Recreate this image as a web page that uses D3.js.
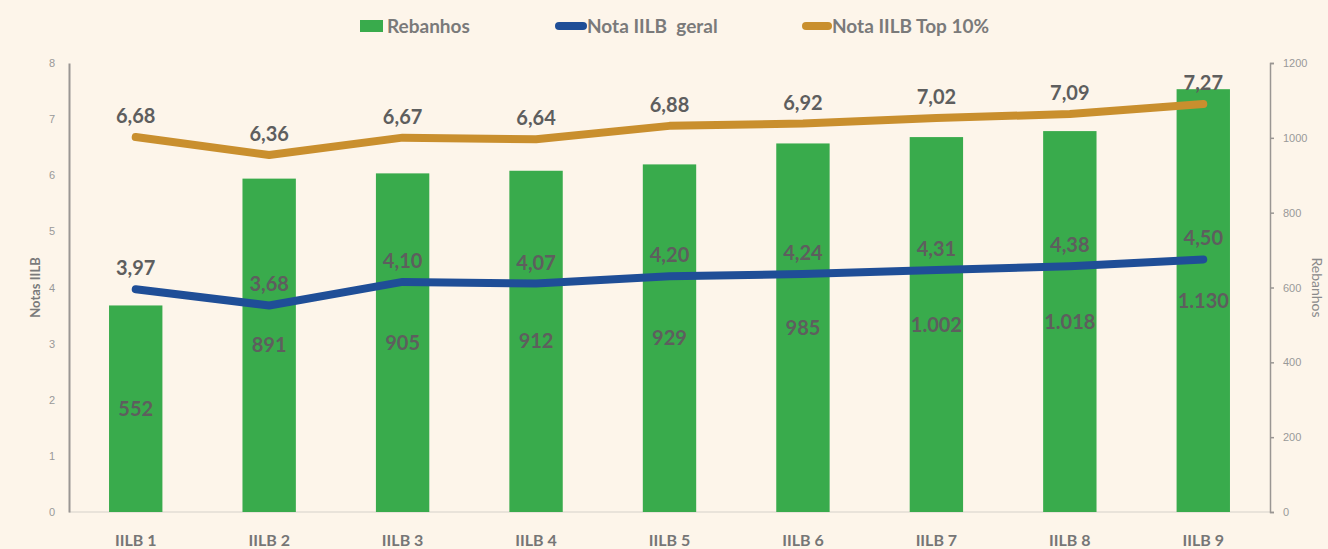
<!DOCTYPE html>
<meta charset="utf-8">
<style>
	body { margin: 0; background: #fdf5ea; }
	svg { display: block; font-family: Lato, "Open Sans", sans-serif; }
	.tick text { fill: #999; font-size: 11px; }
	.bar-label, .pt-label { fill: #5e5e5e; font-size: 20px; font-weight: bold; }
	.x-label { fill: #767676; font-size: 16px; font-weight: bold; }
	.legend text { fill: #7a7a7a; font-size: 19px; font-weight: bold; }
	.axis-title { fill: #7a7a7a; font-size: 13px; font-weight: bold; }
	.axis-title.right { font-size: 14px; font-weight: normal; fill: #8a8a8a; }
</style>
<body></body>
<script src="https://d3js.org/d3.v7.min.js"></script>
<script>
	var categories = ["IILB 1", "IILB 2", "IILB 3", "IILB 4", "IILB 5", "IILB 6", "IILB 7", "IILB 8", "IILB 9"];
	var rebanhos = [552, 891, 905, 912, 929, 985, 1002, 1018, 1130];
	var notaGeral = [3.97, 3.68, 4.10, 4.07, 4.20, 4.24, 4.31, 4.38, 4.50];
	var notaTop = [6.68, 6.36, 6.67, 6.64, 6.88, 6.92, 7.02, 7.09, 7.27];
	var leftTicks = [0, 1, 2, 3, 4, 5, 6, 7, 8];
	var rightTicks = [0, 200, 400, 600, 800, 1000, 1200];

	var green = "#39ab4c", blue = "#1f4e97", gold = "#c98f2e";

	var W = 1328, H = 549;
	var margin = {top: 63, right: 58, bottom: 37, left: 69};
	var width = W - margin.left - margin.right;
	var height = H - margin.top - margin.bottom;

	var locale = d3.formatLocale({decimal: ",", thousands: ".", grouping: [3], currency: ["", ""]});
	var fmtInt = locale.format(",d");
	var fmtDec = locale.format(".2f");

	var svg = d3.select("body").append("svg")
		.attr("width", W)
		.attr("height", H);

	var g = svg.append("g")
		.attr("transform", "translate(" + margin.left + "," + margin.top + ")");

	var x = d3.scaleBand()
		.domain(categories)
		.range([0, width])
		.paddingInner(0.6)
		.paddingOuter(0.3);

	var yL = d3.scaleLinear().domain([0, 8]).range([height, 0]);
	var yR = d3.scaleLinear().domain([0, 1200]).range([height, 0]);

	// baseline
	g.append("line")
		.attr("x1", 0).attr("x2", width)
		.attr("y1", height).attr("y2", height)
		.attr("stroke", "#e2ddd5").attr("stroke-width", 1.5);

	// left axis
	var axL = g.append("g")
		.call(d3.axisLeft(yL).tickValues(leftTicks).tickSize(0).tickPadding(14));
	axL.select(".domain").attr("stroke", "#9a9693").attr("stroke-width", 2);

	// right axis
	var axR = g.append("g")
		.attr("transform", "translate(" + width + ",0)")
		.call(d3.axisRight(yR).tickValues(rightTicks).tickFormat(d3.format("d"))
			.tickSizeInner(4).tickSizeOuter(4).tickPadding(9));
	axR.select(".domain").attr("stroke", "#9a9693").attr("stroke-width", 1.5);
	axR.selectAll(".tick line").attr("stroke", "#9a9693").attr("stroke-width", 1.5);

	// bars
	g.selectAll(".bar")
		.data(rebanhos)
		.enter().append("rect")
		.attr("class", "bar")
		.attr("x", function(d, i) { return x(categories[i]); })
		.attr("width", x.bandwidth())
		.attr("y", function(d) { return yR(d); })
		.attr("height", function(d) { return height - yR(d); })
		.attr("fill", green);

	var line = d3.line()
		.x(function(d, i) { return x(categories[i]) + x.bandwidth() / 2; })
		.y(function(d) { return yL(d); });

	[[notaTop, gold], [notaGeral, blue]].forEach(function(s) {
		g.append("path")
			.datum(s[0])
			.attr("d", line)
			.attr("fill", "none")
			.attr("stroke", s[1])
			.attr("stroke-width", 8)
			.attr("stroke-linecap", "round")
			.attr("stroke-linejoin", "round");
	});

	// bar labels
	g.selectAll(".bar-label")
		.data(rebanhos)
		.enter().append("text")
		.attr("class", "bar-label")
		.attr("text-anchor", "middle")
		.attr("x", function(d, i) { return x(categories[i]) + x.bandwidth() / 2; })
		.attr("y", function(d) { return (yR(d) + height) / 2 + 7; })
		.text(function(d) { return fmtInt(d); });

	// point labels
	[notaGeral, notaTop].forEach(function(s) {
		g.selectAll(null)
			.data(s)
			.enter().append("text")
			.attr("class", "pt-label")
			.attr("text-anchor", "middle")
			.attr("x", function(d, i) { return x(categories[i]) + x.bandwidth() / 2; })
			.attr("y", function(d) { return yL(d) - 14; })
			.text(function(d) { return fmtDec(d); });
	});

	// x labels
	g.selectAll(".x-label")
		.data(categories)
		.enter().append("text")
		.attr("class", "x-label")
		.attr("text-anchor", "middle")
		.attr("x", function(d) { return x(d) + x.bandwidth() / 2; })
		.attr("y", height + 34)
		.text(function(d) { return d; });

	// axis titles
	svg.append("text")
		.attr("class", "axis-title")
		.attr("text-anchor", "middle")
		.attr("transform", "translate(40," + (margin.top + height / 2) + ") rotate(-90)")
		.text("Notas IILB");
	svg.append("text")
		.attr("class", "axis-title right")
		.attr("text-anchor", "middle")
		.attr("transform", "translate(1312," + (margin.top + height / 2) + ") rotate(90)")
		.text("Rebanhos");

	// legend
	var legend = svg.append("g").attr("class", "legend");
	legend.append("rect")
		.attr("x", 360).attr("y", 20).attr("width", 23).attr("height", 12)
		.attr("fill", green);
	legend.append("text").attr("x", 387).attr("y", 33).text("Rebanhos");

	legend.append("line")
		.attr("x1", 559).attr("x2", 583).attr("y1", 26).attr("y2", 26)
		.attr("stroke", blue).attr("stroke-width", 8).attr("stroke-linecap", "round");
	legend.append("text").attr("x", 587).attr("y", 33).attr("xml:space", "preserve").text("Nota IILB  geral");

	legend.append("line")
		.attr("x1", 806).attr("x2", 828).attr("y1", 26).attr("y2", 26)
		.attr("stroke", gold).attr("stroke-width", 8).attr("stroke-linecap", "round");
	legend.append("text").attr("x", 832).attr("y", 33).text("Nota IILB Top 10%");
</script>
